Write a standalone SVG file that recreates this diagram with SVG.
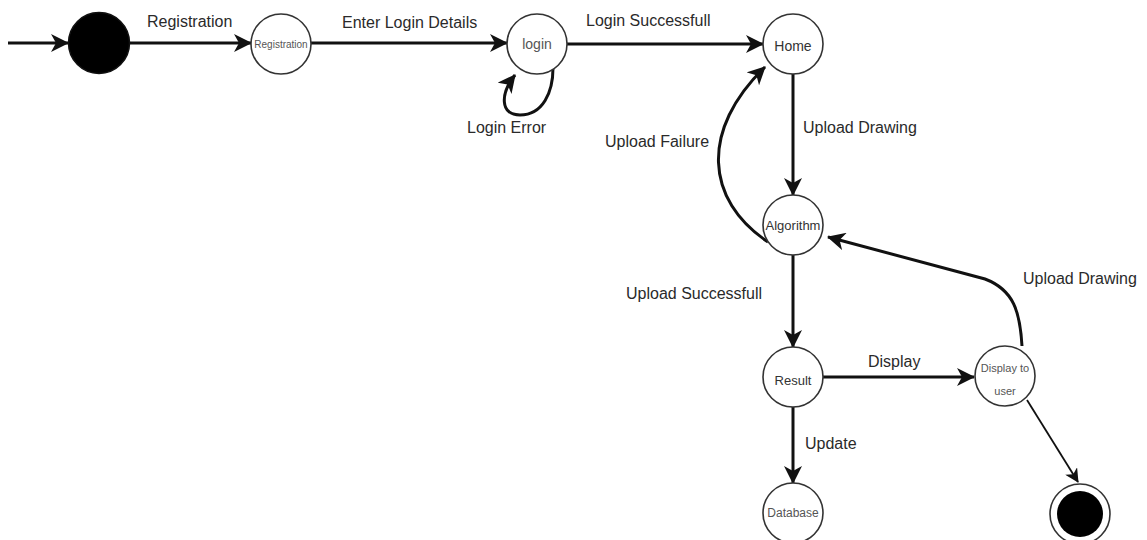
<svg xmlns="http://www.w3.org/2000/svg" width="1147" height="540" viewBox="0 0 1147 540">
  <style>
    .state { fill: #ffffff; stroke: #333333; stroke-width: 1.6; }
    .solid { fill: #000000; stroke: #111111; stroke-width: 1.5; }
    .edge { fill: none; stroke: #111111; stroke-width: 3; }
    .thin { fill: none; stroke: #111111; stroke-width: 1.8; }
    .elabel { font-family: "Liberation Sans", Arial, sans-serif; font-size: 16px; fill: #2a2a2a; }
    .nlabel { font-family: "Liberation Sans", Arial, sans-serif; fill: #555555; text-anchor: middle; dominant-baseline: central; }
    .dark { fill: #333333; }
  </style>
  <defs>
    <marker id="arrow" markerUnits="userSpaceOnUse" viewBox="0 0 18 18" refX="17" refY="9" markerWidth="18" markerHeight="18" orient="auto">
      <path d="M0,0 L18,9 L0,18 L5,9 Z" fill="#111111"/>
    </marker>
    <marker id="arrowSmall" markerUnits="userSpaceOnUse" viewBox="0 0 14 14" refX="13" refY="7" markerWidth="14" markerHeight="14" orient="auto">
      <path d="M0,0 L14,7 L0,14 L4,7 Z" fill="#111111"/>
    </marker>
  </defs>

  <rect width="1147" height="540" fill="#ffffff"/>

  <!-- transitions -->
  <g id="connectors">
    <path class="edge" d="M8,43 L68,43" marker-end="url(#arrow)"/>
    <path class="edge" d="M130,43 L251,43" marker-end="url(#arrow)"/>
    <path class="edge" d="M311,43 L507,43" marker-end="url(#arrow)"/>
    <path class="edge" d="M567,44 L763,44" marker-end="url(#arrow)"/>
    <path class="edge" d="M553,68 C553,92 543,115 520,115 C500,115 500,94 515,75" marker-end="url(#arrow)"/>
    <path class="edge" d="M793,74 L793,195" marker-end="url(#arrow)"/>
    <path class="edge" d="M768,242 C705,200 700,130 765,67" marker-end="url(#arrow)"/>
    <path class="edge" d="M793,255 L793,347" marker-end="url(#arrow)"/>
    <path class="edge" d="M1022,346 C1020,312 1014,290 985,279 L828,237" marker-end="url(#arrow)"/>
    <path class="edge" d="M823,377 L974,377" marker-end="url(#arrow)"/>
    <path class="edge" d="M793,407 L793,483" marker-end="url(#arrow)"/>
    <path class="thin" d="M1027,400 L1078,482" marker-end="url(#arrowSmall)"/>

    <text class="elabel" x="147" y="27">Registration</text>
    <text class="elabel" x="342" y="28">Enter Login Details</text>
    <text class="elabel" x="586" y="26">Login Successfull</text>
    <text class="elabel" x="467" y="133">Login Error</text>
    <text class="elabel" x="605" y="147">Upload Failure</text>
    <text class="elabel" x="803" y="133">Upload Drawing</text>
    <text class="elabel" x="626" y="299">Upload Successfull</text>
    <text class="elabel" x="1023" y="284">Upload Drawing</text>
    <text class="elabel" x="868" y="367">Display</text>
    <text class="elabel" x="805" y="449">Update</text>
  </g>

  <!-- states -->
  <g id="start">
    <circle class="solid" cx="99" cy="43" r="30.5"/>
  </g>
  <g id="registration">
    <circle class="state" cx="281" cy="44" r="30"/>
    <text class="nlabel" x="281" y="44" font-size="10">Registration</text>
  </g>
  <g id="login">
    <circle class="state" cx="537" cy="44" r="30"/>
    <text class="nlabel" x="537" y="44" font-size="14">login</text>
  </g>
  <g id="home">
    <circle class="state" cx="793" cy="44" r="30"/>
    <text class="nlabel dark" x="793" y="46" font-size="14">Home</text>
  </g>
  <g id="algorithm">
    <circle class="state" cx="793" cy="225" r="30"/>
    <text class="nlabel dark" x="793" y="225" font-size="13">Algorithm</text>
  </g>
  <g id="result">
    <circle class="state" cx="793" cy="377" r="30"/>
    <text class="nlabel dark" x="793" y="380" font-size="13">Result</text>
  </g>
  <g id="display-to-user">
    <circle class="state" cx="1005" cy="376" r="30"/>
    <text class="nlabel" x="1005" y="368" font-size="11">Display to</text>
    <text class="nlabel" x="1005" y="391" font-size="11">user</text>
  </g>
  <g id="database">
    <circle class="state" cx="793" cy="513" r="30"/>
    <text class="nlabel" x="793" y="513" font-size="12">Database</text>
  </g>
  <g id="end">
    <circle class="state" cx="1080" cy="514" r="30"/>
    <circle cx="1080" cy="514" r="23" fill="#000000"/>
  </g>
</svg>
